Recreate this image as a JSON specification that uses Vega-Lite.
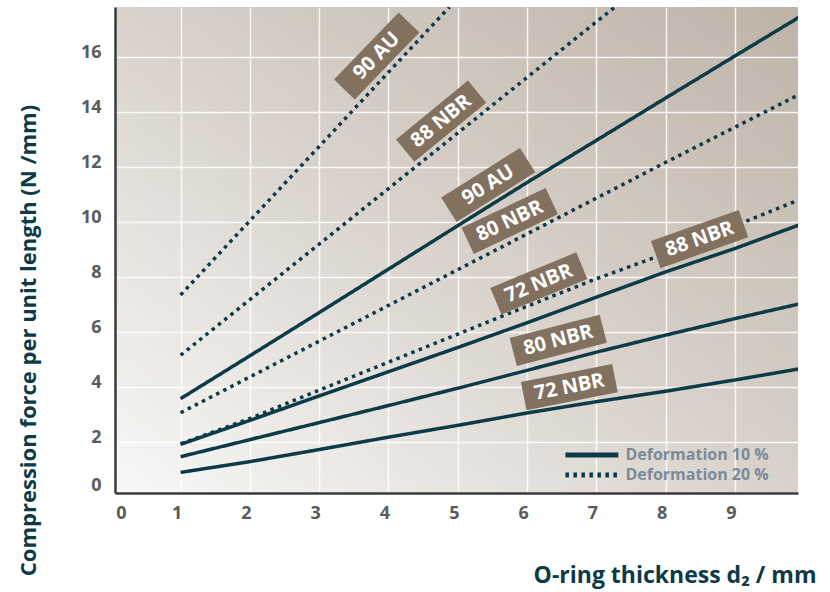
{
  "$schema": "https://vega.github.io/schema/vega-lite/v6.json",
  "width": 683,
  "height": 486,
  "autosize": {"type": "none"},
  "padding": {"left": 115, "top": 7, "right": 32, "bottom": 99},
  "background": "white",
  "view": {
    "stroke": null,
    "fill": {"gradient": "linear", "x1": 0, "y1": 1, "x2": 1, "y2": 0,
      "stops": [{"offset": 0, "color": "#f8f8f7"}, {"offset": 0.5, "color": "#d9d2cb"}, {"offset": 1, "color": "#bfb3a7"}]}
  },
  "datasets": {
    "lines": [
      {"series": "72 NBR 10%", "deformation": "Deformation 10 %", "x": 1, "y": 0.91},
      {"series": "72 NBR 10%", "deformation": "Deformation 10 %", "x": 2, "y": 1.3},
      {"series": "72 NBR 10%", "deformation": "Deformation 10 %", "x": 3, "y": 1.74},
      {"series": "72 NBR 10%", "deformation": "Deformation 10 %", "x": 4, "y": 2.19},
      {"series": "72 NBR 10%", "deformation": "Deformation 10 %", "x": 5, "y": 2.62},
      {"series": "72 NBR 10%", "deformation": "Deformation 10 %", "x": 6, "y": 3.07},
      {"series": "72 NBR 10%", "deformation": "Deformation 10 %", "x": 7, "y": 3.48},
      {"series": "72 NBR 10%", "deformation": "Deformation 10 %", "x": 8, "y": 3.86},
      {"series": "72 NBR 10%", "deformation": "Deformation 10 %", "x": 9, "y": 4.27},
      {"series": "72 NBR 10%", "deformation": "Deformation 10 %", "x": 9.92, "y": 4.67},
      {"series": "80 NBR 10%", "deformation": "Deformation 10 %", "x": 1, "y": 1.48},
      {"series": "80 NBR 10%", "deformation": "Deformation 10 %", "x": 2, "y": 2.1},
      {"series": "80 NBR 10%", "deformation": "Deformation 10 %", "x": 3, "y": 2.72},
      {"series": "80 NBR 10%", "deformation": "Deformation 10 %", "x": 4, "y": 3.34},
      {"series": "80 NBR 10%", "deformation": "Deformation 10 %", "x": 5, "y": 3.97},
      {"series": "80 NBR 10%", "deformation": "Deformation 10 %", "x": 6, "y": 4.62},
      {"series": "80 NBR 10%", "deformation": "Deformation 10 %", "x": 7, "y": 5.28},
      {"series": "80 NBR 10%", "deformation": "Deformation 10 %", "x": 8, "y": 5.9},
      {"series": "80 NBR 10%", "deformation": "Deformation 10 %", "x": 9, "y": 6.5},
      {"series": "80 NBR 10%", "deformation": "Deformation 10 %", "x": 9.92, "y": 7.03},
      {"series": "88 NBR 10%", "deformation": "Deformation 10 %", "x": 1, "y": 1.93},
      {"series": "88 NBR 10%", "deformation": "Deformation 10 %", "x": 2, "y": 2.8},
      {"series": "88 NBR 10%", "deformation": "Deformation 10 %", "x": 3, "y": 3.69},
      {"series": "88 NBR 10%", "deformation": "Deformation 10 %", "x": 4, "y": 4.57},
      {"series": "88 NBR 10%", "deformation": "Deformation 10 %", "x": 5, "y": 5.45},
      {"series": "88 NBR 10%", "deformation": "Deformation 10 %", "x": 6, "y": 6.35},
      {"series": "88 NBR 10%", "deformation": "Deformation 10 %", "x": 7, "y": 7.28},
      {"series": "88 NBR 10%", "deformation": "Deformation 10 %", "x": 8, "y": 8.2},
      {"series": "88 NBR 10%", "deformation": "Deformation 10 %", "x": 9, "y": 9.05},
      {"series": "88 NBR 10%", "deformation": "Deformation 10 %", "x": 9.92, "y": 9.9},
      {"series": "90 AU 10%", "deformation": "Deformation 10 %", "x": 1, "y": 3.59},
      {"series": "90 AU 10%", "deformation": "Deformation 10 %", "x": 2, "y": 5.15},
      {"series": "90 AU 10%", "deformation": "Deformation 10 %", "x": 3, "y": 6.72},
      {"series": "90 AU 10%", "deformation": "Deformation 10 %", "x": 4, "y": 8.3},
      {"series": "90 AU 10%", "deformation": "Deformation 10 %", "x": 5, "y": 9.88},
      {"series": "90 AU 10%", "deformation": "Deformation 10 %", "x": 6, "y": 11.45},
      {"series": "90 AU 10%", "deformation": "Deformation 10 %", "x": 7, "y": 12.98},
      {"series": "90 AU 10%", "deformation": "Deformation 10 %", "x": 8, "y": 14.52},
      {"series": "90 AU 10%", "deformation": "Deformation 10 %", "x": 9, "y": 16.05},
      {"series": "90 AU 10%", "deformation": "Deformation 10 %", "x": 9.92, "y": 17.45},
      {"series": "72 NBR 20%", "deformation": "Deformation 20 %", "x": 1, "y": 1.95},
      {"series": "72 NBR 20%", "deformation": "Deformation 20 %", "x": 2, "y": 2.87},
      {"series": "72 NBR 20%", "deformation": "Deformation 20 %", "x": 3, "y": 3.9},
      {"series": "72 NBR 20%", "deformation": "Deformation 20 %", "x": 4, "y": 4.92},
      {"series": "72 NBR 20%", "deformation": "Deformation 20 %", "x": 5, "y": 5.94},
      {"series": "72 NBR 20%", "deformation": "Deformation 20 %", "x": 6, "y": 6.95},
      {"series": "72 NBR 20%", "deformation": "Deformation 20 %", "x": 7, "y": 7.95},
      {"series": "72 NBR 20%", "deformation": "Deformation 20 %", "x": 8, "y": 8.87},
      {"series": "72 NBR 20%", "deformation": "Deformation 20 %", "x": 9, "y": 9.88},
      {"series": "72 NBR 20%", "deformation": "Deformation 20 %", "x": 9.92, "y": 10.81},
      {"series": "80 NBR 20%", "deformation": "Deformation 20 %", "x": 1, "y": 3.08},
      {"series": "80 NBR 20%", "deformation": "Deformation 20 %", "x": 2, "y": 4.38},
      {"series": "80 NBR 20%", "deformation": "Deformation 20 %", "x": 3, "y": 5.68},
      {"series": "80 NBR 20%", "deformation": "Deformation 20 %", "x": 4, "y": 6.98},
      {"series": "80 NBR 20%", "deformation": "Deformation 20 %", "x": 5, "y": 8.28},
      {"series": "80 NBR 20%", "deformation": "Deformation 20 %", "x": 6, "y": 9.58},
      {"series": "80 NBR 20%", "deformation": "Deformation 20 %", "x": 7, "y": 10.88},
      {"series": "80 NBR 20%", "deformation": "Deformation 20 %", "x": 8, "y": 12.18},
      {"series": "80 NBR 20%", "deformation": "Deformation 20 %", "x": 9, "y": 13.46},
      {"series": "80 NBR 20%", "deformation": "Deformation 20 %", "x": 9.92, "y": 14.64},
      {"series": "88 NBR 20%", "deformation": "Deformation 20 %", "x": 1, "y": 5.17},
      {"series": "88 NBR 20%", "deformation": "Deformation 20 %", "x": 2, "y": 7.19},
      {"series": "88 NBR 20%", "deformation": "Deformation 20 %", "x": 3, "y": 9.21},
      {"series": "88 NBR 20%", "deformation": "Deformation 20 %", "x": 4, "y": 11.23},
      {"series": "88 NBR 20%", "deformation": "Deformation 20 %", "x": 5, "y": 13.25},
      {"series": "88 NBR 20%", "deformation": "Deformation 20 %", "x": 6, "y": 15.27},
      {"series": "88 NBR 20%", "deformation": "Deformation 20 %", "x": 7, "y": 17.29},
      {"series": "88 NBR 20%", "deformation": "Deformation 20 %", "x": 7.27, "y": 17.83},
      {"series": "90 AU 20%", "deformation": "Deformation 20 %", "x": 1, "y": 7.36},
      {"series": "90 AU 20%", "deformation": "Deformation 20 %", "x": 2, "y": 10.06},
      {"series": "90 AU 20%", "deformation": "Deformation 20 %", "x": 3, "y": 12.76},
      {"series": "90 AU 20%", "deformation": "Deformation 20 %", "x": 4, "y": 15.46},
      {"series": "90 AU 20%", "deformation": "Deformation 20 %", "x": 4.88, "y": 17.83}
    ],
    "labels": [
      {"label": "90 AU", "series": "90 AU 20%", "x": 3.83, "y": 16.05},
      {"label": "88 NBR", "series": "88 NBR 20%", "x": 4.76, "y": 13.68},
      {"label": "90 AU", "series": "90 AU 10%", "x": 5.44, "y": 11.36},
      {"label": "80 NBR", "series": "80 NBR 20%", "x": 5.75, "y": 10.05},
      {"label": "72 NBR", "series": "72 NBR 20%", "x": 6.17, "y": 7.78},
      {"label": "88 NBR", "series": "88 NBR 10%", "x": 8.49, "y": 9.39},
      {"label": "80 NBR", "series": "80 NBR 10%", "x": 6.45, "y": 5.71},
      {"label": "72 NBR", "series": "72 NBR 10%", "x": 6.61, "y": 4.01}
    ]
  },
  "layer": [
    {
      "data": {"name": "lines"},
      "mark": {"type": "line", "color": "#0c3a47", "strokeWidth": 3.5, "strokeCap": "butt", "clip": true},
      "encoding": {
        "x": {
          "field": "x", "type": "quantitative",
          "scale": {"domain": [0.053, 9.91], "nice": false, "zero": false},
          "axis": {
            "values": [0.053, 1, 2, 3, 4, 5, 6, 7, 8, 9],
            "labelExpr": "datum.value < 0.5 ? '0' : format(datum.value, 'd')",
            "title": "O-ring thickness  d₂ / mm",
            "titleFont": "Open Sans", "titleFontSize": 23, "titleFontWeight": "bold", "titleColor": "#0c3a47",
            "titleX": 701, "titleY": 82, "titleAlign": "right", "titleBaseline": "middle", "titleAnchor": null,
            "labelFont": "Open Sans", "labelFontSize": 18, "labelFontWeight": "bold", "labelColor": "#5b5b5b",
            "labelPadding": 11, "ticks": false, "tickSize": 0,
            "labelOffset": {"condition": {"test": "datum.value < 0.5", "value": 6}, "value": -4},
            "labelFlush": false, "labelOverlap": false, "labelBound": false,
            "domainColor": "#3a3a3a", "domainWidth": 2.5,
            "grid": true, "gridColor": "#ffffff", "gridWidth": 1.5, "gridOpacity": 0.85
          }
        },
        "y": {
          "field": "y", "type": "quantitative",
          "scale": {"domain": [0.16, 17.83], "nice": false, "zero": false},
          "axis": {
            "values": [0.16, 2, 4, 6, 8, 10, 12, 14, 16],
            "labelExpr": "datum.value < 0.5 ? '0' : format(datum.value, 'd')",
            "title": "Compression force per unit length (N /mm)",
            "titleFont": "Open Sans", "titleFontSize": 22, "titleFontWeight": "bold", "titleColor": "#0c3a47",
            "titleX": -87, "titleY": 333, "titleAngle": -90, "titleAlign": "center", "titleBaseline": "middle", "titleAnchor": null,
            "labelFont": "Open Sans", "labelFontSize": 18, "labelFontWeight": "bold", "labelColor": "#5b5b5b",
            "labelPadding": 14, "ticks": false, "tickSize": 0,
            "labelOffset": {"condition": {"test": "datum.value < 0.5", "value": -8}, "value": -5},
            "labelFlush": false, "labelOverlap": false, "labelBound": false,
            "domainColor": "#3a3a3a", "domainWidth": 2.5,
            "grid": true, "gridColor": "#ffffff", "gridWidth": 1.5, "gridOpacity": 0.85
          }
        },
        "detail": {"field": "series", "type": "nominal"},
        "strokeDash": {
          "field": "deformation", "type": "nominal",
          "scale": {"domain": ["Deformation 10 %", "Deformation 20 %"], "range": [[1, 0], [3.5, 4.5]]},
          "legend": {
            "orient": "none", "legendX": 468.9, "legendY": 440, "title": null,
            "symbolType": "M-5,0H5", "symbolSize": 112, "symbolStrokeWidth": 5, "symbolStrokeColor": "#0c3a47",
            "labelFont": "Open Sans", "labelFontSize": 16, "labelFontWeight": "bold", "labelColor": "#7b8a99",
            "labelOffset": 25.5, "rowPadding": 0, "padding": 0, "direction": "vertical"
          }
        }
      }
    },
    {
      "data": {"name": "labels"},
      "mark": {"type": "point", "shape": "M-1,-0.31H1V0.31H-1Z", "size": 8649, "filled": true, "fill": "#83715f", "opacity": 1, "strokeWidth": 0},
      "encoding": {
        "x": {"field": "x", "type": "quantitative"},
        "y": {"field": "y", "type": "quantitative"},
        "angle": {
          "condition": [
            {"test": "datum.series == '90 AU 20%'", "value": -46},
            {"test": "datum.series == '88 NBR 20%'", "value": -39.4},
            {"test": "datum.series == '90 AU 10%'", "value": -32.2},
            {"test": "datum.series == '80 NBR 20%'", "value": -25.3},
            {"test": "datum.series == '72 NBR 20%'", "value": -22.5},
            {"test": "datum.series == '88 NBR 10%'", "value": -19.4},
            {"test": "datum.series == '80 NBR 10%'", "value": -14.5}
          ],
          "value": -11.1
        }
      }
    },
    {
      "data": {"name": "labels"},
      "mark": {"type": "text", "color": "#ffffff", "font": "Open Sans", "fontWeight": "bold", "fontSize": 20, "align": "center", "baseline": "middle"},
      "encoding": {
        "x": {"field": "x", "type": "quantitative"},
        "y": {"field": "y", "type": "quantitative"},
        "text": {"field": "label", "type": "nominal"},
        "angle": {
          "condition": [
            {"test": "datum.series == '90 AU 20%'", "value": -46},
            {"test": "datum.series == '88 NBR 20%'", "value": -39.4},
            {"test": "datum.series == '90 AU 10%'", "value": -32.2},
            {"test": "datum.series == '80 NBR 20%'", "value": -25.3},
            {"test": "datum.series == '72 NBR 20%'", "value": -22.5},
            {"test": "datum.series == '88 NBR 10%'", "value": -19.4},
            {"test": "datum.series == '80 NBR 10%'", "value": -14.5}
          ],
          "value": -11.1
        }
      }
    }
  ]
}
